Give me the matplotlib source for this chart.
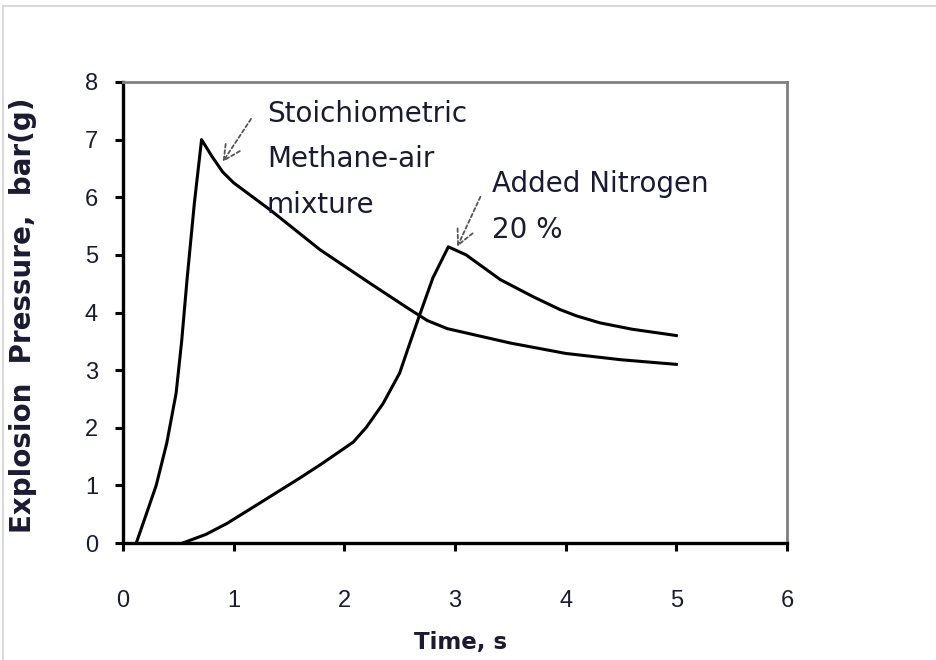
import matplotlib
matplotlib.use("Agg")
import matplotlib.pyplot as plt
from matplotlib.patches import Rectangle

# stoichiometric methane-air mixture
t_stoich = [0.12, 0.214, 0.3, 0.395, 0.48, 0.53, 0.58, 0.645, 0.71, 0.8, 0.9, 1.0,
            1.33, 1.78, 2.23, 2.57, 2.75, 2.93, 3.5, 4.0, 4.5, 5.0]
p_stoich = [0.0, 0.52, 1.0, 1.73, 2.6, 3.5, 4.6, 5.9, 7.0, 6.72, 6.44, 6.25,
            5.78, 5.09, 4.51, 4.08, 3.86, 3.72, 3.47, 3.29, 3.18, 3.1]

# with 20 % added nitrogen
t_n2 = [0.54, 0.75, 0.94, 1.2, 1.6, 1.8, 2.08, 2.2, 2.35, 2.5, 2.58, 2.67, 2.8,
        2.94, 3.1, 3.41, 3.71, 3.95, 4.1, 4.31, 4.6, 5.0]
p_n2 = [0.0, 0.15, 0.34, 0.65, 1.13, 1.38, 1.75, 2.01, 2.42, 2.95, 3.4, 3.9, 4.6,
        5.14, 5.0, 4.57, 4.27, 4.05, 3.94, 3.82, 3.71, 3.6]

x_ticks = [0, 1, 2, 3, 4, 5, 6]
y_ticks = [0, 1, 2, 3, 4, 5, 6, 7, 8]

label_stoich = ["Stoichiometric", "Methane-air", "mixture"]
label_n2 = ["Added Nitrogen", "20 %"]

fig = plt.figure(figsize=(9.36, 6.6), dpi=100)
# chart area border (only top/left visible in the source)
fig.patches.append(Rectangle((3/936, -0.1), 1.2, 1.1 - 6/660,
                             transform=fig.transFigure, fill=False,
                             edgecolor='#d9d9d9', lw=1.5))

ax = fig.add_axes([123/936, 1 - 543/660, 664/936, 461/660])

ax.plot(t_stoich, p_stoich, color='black', lw=2.2, solid_joinstyle='round')
ax.plot(t_n2, p_n2, color='black', lw=2.2, solid_joinstyle='round')

ax.set_xlim(0, 6)
ax.set_ylim(0, 8)
ax.set_xticks(x_ticks)
ax.set_yticks(y_ticks)

for s in ['left', 'bottom']:
    ax.spines[s].set_color('black')
    ax.spines[s].set_linewidth(2.4)
for s in ['top', 'right']:
    ax.spines[s].set_color('#7f7f7f')
    ax.spines[s].set_linewidth(2.0)

ax.tick_params(axis='both', direction='out', length=6, width=2.2,
               labelsize=17, colors='black', labelcolor='#1a1a33')
ax.tick_params(axis='x', pad=28)
ax.tick_params(axis='y', pad=12)

for lab in ax.get_xticklabels() + ax.get_yticklabels():
    lab.set_family('Liberation Sans')

# annotation text, one line at a time
y0 = 7.31
for i, line in enumerate(label_stoich):
    ax.text(1.30, y0 - i * 0.79, line, fontsize=20, color='#1a1a33',
            va='baseline', ha='left')
y0 = 6.09
for i, line in enumerate(label_n2):
    ax.text(3.33, y0 - i * 0.79, line, fontsize=20, color='#1a1a33',
            va='baseline', ha='left')

arrow = dict(arrowstyle='->', linestyle=(0, (2, 1.5)), color='#555555',
             lw=1.3, mutation_scale=30, shrinkA=0, shrinkB=0)
ax.annotate('', xy=(0.90, 6.61), xytext=(1.157, 7.36), arrowprops=arrow)
ax.annotate('', xy=(3.02, 5.14), xytext=(3.23, 6.01), arrowprops=arrow)

fig.text(461/936, 1 - 643/660, 'Time, s', fontsize=16.5, fontweight='bold',
         ha='center', va='center', color='#1a1a33')
fig.text(23/936, 1 - 315/660, 'Explosion  Pressure,  bar(g)', fontsize=20,
         fontweight='bold', rotation=90, ha='center', va='center',
         color='#1a1a33')

fig.savefig('out.png', dpi=100)
